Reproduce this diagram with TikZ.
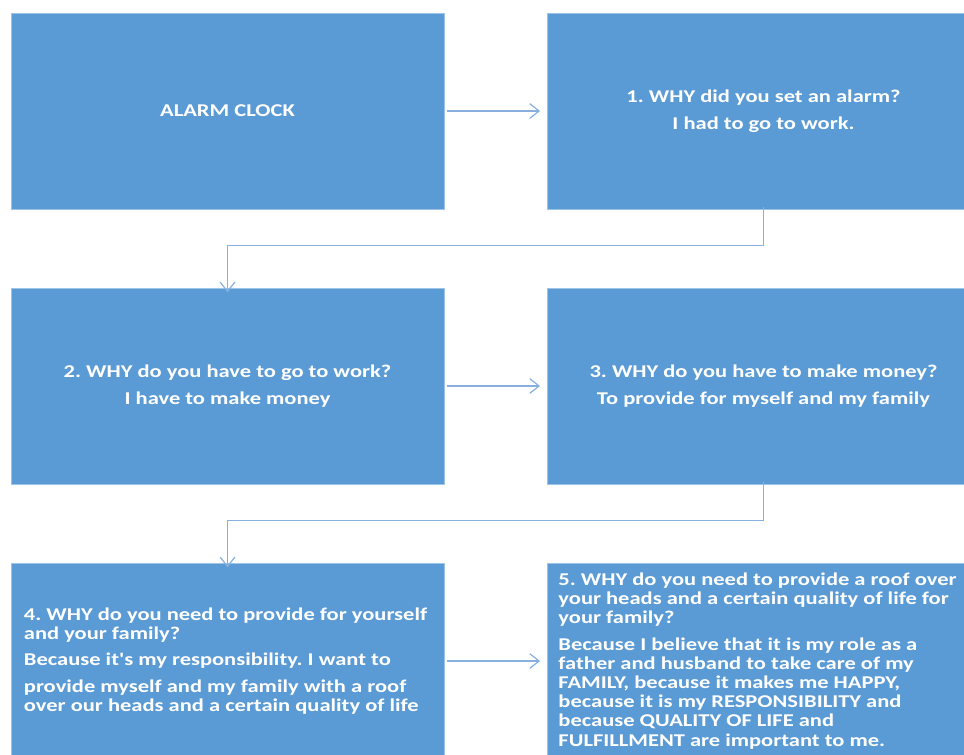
\documentclass[tikz,border=0pt]{standalone}
\usepackage{fontspec}
\setmainfont{Carlito}[FakeStretch=1.25, Ligatures=TeXOff]
\usetikzlibrary{arrows.meta}

\definecolor{boxblue}{RGB}{91,155,213}
\definecolor{linkblue}{RGB}{135,176,224}
\newcommand{\whyfont}{\fontsize{13.5}{14.3}\selectfont\bfseries\frenchspacing}

\tikzset{
  whybox/.style={rectangle, fill=boxblue, draw=boxblue!60!white, line width=0.4pt,
    minimum width=324.75pt, minimum height=147pt, text=white, font=\whyfont, inner sep=0pt},
  link/.style={draw=linkblue, line width=0.9pt, -{Straight Barb[length=7pt,width=11pt]}}
}

\begin{document}
\begin{tikzpicture}[x=0.75pt,y=0.75pt,yscale=-1]
\useasboundingbox (0,0) rectangle (964,754);
\clip (0,0) rectangle (964,754);

%Shape: Rectangle (row 1)
\node [whybox] (alarm) at (227.5,111) {ALARM CLOCK};
\node [whybox, align=center] (why1) at (763.5,111) {1. WHY did you set an alarm?\\[5.75pt]I had to go to work.};

%Shape: Rectangle (row 2)
\node [whybox, align=center] (why2) at (227.5,386) {2. WHY do you have to go to work?\\[5.75pt]I have to make money};
\node [whybox, align=center] (why3) at (763.5,386) {3. WHY do you have to make money?\\[5.75pt]To provide for myself and my family};

%Shape: Rectangle (row 3)
\node [whybox, align=left] (why4) at (227.5,661) {4. WHY do you need to provide for yourself\hspace*{3pt}\\
and your family?\\[5.75pt]
Because it's my responsibility. I want to\\[5.75pt]
provide myself and my family with a roof\\
over our heads and a certain quality of life};
\node [whybox, align=left] (why5) at (763.5,661) {5. WHY do you need to provide a roof over\hspace*{9pt}\\
your heads and a certain quality of life for\\
your family?\\[5.75pt]
Because I believe that it is my role as a\\
father and husband to take care of my\\
FAMILY, because it makes me HAPPY,\\
because it is my RESPONSIBILITY and\\
because QUALITY OF LIFE and\\
FULFILLMENT are important to me.};

%Straight Lines
\draw [link] ([xshift=2pt]alarm.east) -- ([xshift=-5pt]why1.west);
\draw [link] ([xshift=2pt]why2.east) -- ([xshift=-5pt]why3.west);
\draw [link] ([xshift=2pt]why4.east) -- ([xshift=-5pt]why5.west);

%Elbow Lines
\draw [link] ([yshift=-1.5pt]why1.south) -- ++(0,38) -| ([yshift=3.5pt]why2.north);
\draw [link] ([yshift=-1.5pt]why3.south) -- ++(0,38) -| ([yshift=3.5pt]why4.north);

\end{tikzpicture}
\end{document}
